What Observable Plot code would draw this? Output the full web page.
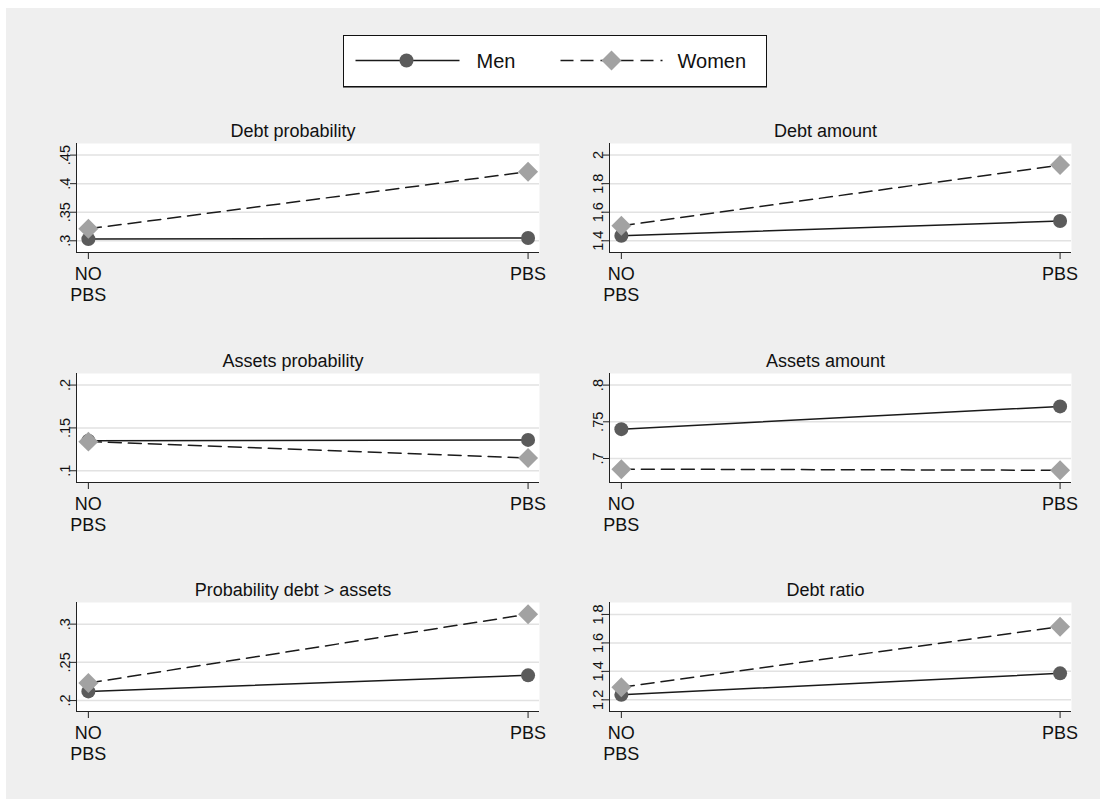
<!DOCTYPE html>
<html><head><meta charset="utf-8">
<script src="https://cdn.jsdelivr.net/npm/d3@7"></script>
<script src="https://cdn.jsdelivr.net/npm/@observablehq/plot@0.6"></script>
<style>
html,body{margin:0;padding:0;background:#fff;}
#page{position:relative;width:1100px;height:799px;overflow:hidden;font-family:"Liberation Sans",Arial,Helvetica,sans-serif;}
#bg{position:absolute;left:6px;top:8px;right:0;bottom:0;background:#efefef;}
#legend{position:absolute;left:343px;top:35px;width:422px;height:50px;background:#fff;border:1.5px solid #111;box-shadow:0 1px 0 #777;}
#legend svg{position:absolute;left:0;top:0;}
</style>
</head><body><div id="page"><div id="bg"></div><div id="legend"></div></div>
<script>
// ---- data ----
const categories = ["NO PBS", "PBS"];
const titles = ["Debt probability", "Debt amount", "Assets probability", "Assets amount", "Probability debt > assets", "Debt ratio"];
const seriesNames = ["Men", "Women"];
const menValues = [[0.303, 0.305], [1.435, 1.538], [0.135, 0.136], [0.740, 0.771], [0.212, 0.233], [1.235, 1.386]];
const womenValues = [[0.321, 0.421], [1.505, 1.930], [0.134, 0.115], [0.6855, 0.684], [0.223, 0.313], [1.289, 1.714]];
const tickValues = [[0.3, 0.35, 0.4, 0.45], [1.4, 1.6, 1.8, 2], [0.1, 0.15, 0.2], [0.7, 0.75, 0.8], [0.2, 0.25, 0.3], [1.2, 1.4, 1.6, 1.8]];

// ---- scale configuration ----
const yDomains = [[0.2795, 0.4703], [1.318, 2.081], [0.0863, 0.2135], [0.6673, 0.8158], [0.1857, 0.3283], [1.118, 1.884]];
const xDomain = [-0.027, 1.026];

const FONT = '"Liberation Sans", Arial, Helvetica, sans-serif';
const fmtY = d => String(d).replace(/^0\./, ".");
const fmtX = i => categories[i].replace(" ", "\n");

const page = document.getElementById("page");
const rowTops = [100, 330, 559];

titles.forEach((title, k) => {
  const col = k % 2, row = Math.floor(k / 2);
  const men = categories.map((c, i) => ({i, v: menValues[k][i], s: seriesNames[0]}));
  const women = categories.map((c, i) => ({i, v: womenValues[k][i], s: seriesNames[1]}));
  const chart = Plot.plot({
    width: 550, height: 207,
    marginLeft: 76, marginRight: col ? 12 : 11, marginTop: 43, marginBottom: 55,
    x: {domain: xDomain, axis: null},
    y: {domain: yDomains[k], axis: null},
    style: {fontFamily: FONT, fontSize: "14px", color: "#111", background: "transparent", overflow: "visible"},
    marks: [
      Plot.frame({fill: "white", stroke: null}),
      Plot.gridY(tickValues[k], {stroke: "#e2e2e2", strokeOpacity: 1, strokeWidth: 1.5}),
      Plot.axisY(tickValues[k], {label: null, tickSize: 6, tickPadding: 1, tickRotate: -90, tickFormat: fmtY, fontSize: 14.5, stroke: "#222"}),
      Plot.axisX([0, 1], {label: null, tickSize: 7, tickPadding: 6, tickFormat: fmtX, fontSize: 18, lineHeight: 1.14, stroke: "#222"}),
      Plot.ruleX([xDomain[0]], {stroke: "#222", strokeWidth: 1}),
      Plot.ruleY([yDomains[k][0]], {stroke: "#222", strokeWidth: 1}),
      Plot.line(men, {x: "i", y: "v", stroke: "#1a1a1a", strokeWidth: 1.5}),
      Plot.dot(men, {x: "i", y: "v", r: 7, symbol: "circle", fill: "#5b5b5b", stroke: null}),
      Plot.line(women, {x: "i", y: "v", stroke: "#1a1a1a", strokeWidth: 1.5, strokeDasharray: "13,7"}),
      Plot.dot(women, {x: "i", y: "v", r: 9, symbol: "diamond2", fill: "#a2a2a2", stroke: null}),
      Plot.text([title], {frameAnchor: "top", lineAnchor: "bottom", dy: -7, dx: -15, fontSize: 18, fill: "#111"})
    ]
  });
  chart.style.position = "absolute";
  chart.style.left = (col ? 533 : 0) + "px";
  chart.style.top = rowTops[row] + "px";
  page.appendChild(chart);
});

// ---- legend ----
const legend = document.getElementById("legend");
const sym = d3.symbol().type(d3.symbolDiamond2).size(Math.PI * 81)();
legend.innerHTML = `<svg width="422" height="50" style="font-family:${FONT}">
  <line x1="11.5" x2="115.5" y1="24.5" y2="24.5" stroke="#1a1a1a" stroke-width="1.6"/>
  <circle cx="62.5" cy="24.5" r="7" fill="#5b5b5b"/>
  <text x="132.5" y="31.5" font-size="20" fill="#111">${seriesNames[0]}</text>
  <line x1="216.5" x2="318.5" y1="24.5" y2="24.5" stroke="#1a1a1a" stroke-width="1.6" stroke-dasharray="13,7"/>
  <path transform="translate(267.5,24.5)" d="${sym}" fill="#a2a2a2"/>
  <text x="333.5" y="31.5" font-size="20" fill="#111">${seriesNames[1]}</text>
</svg>`;
</script>
</body></html>
